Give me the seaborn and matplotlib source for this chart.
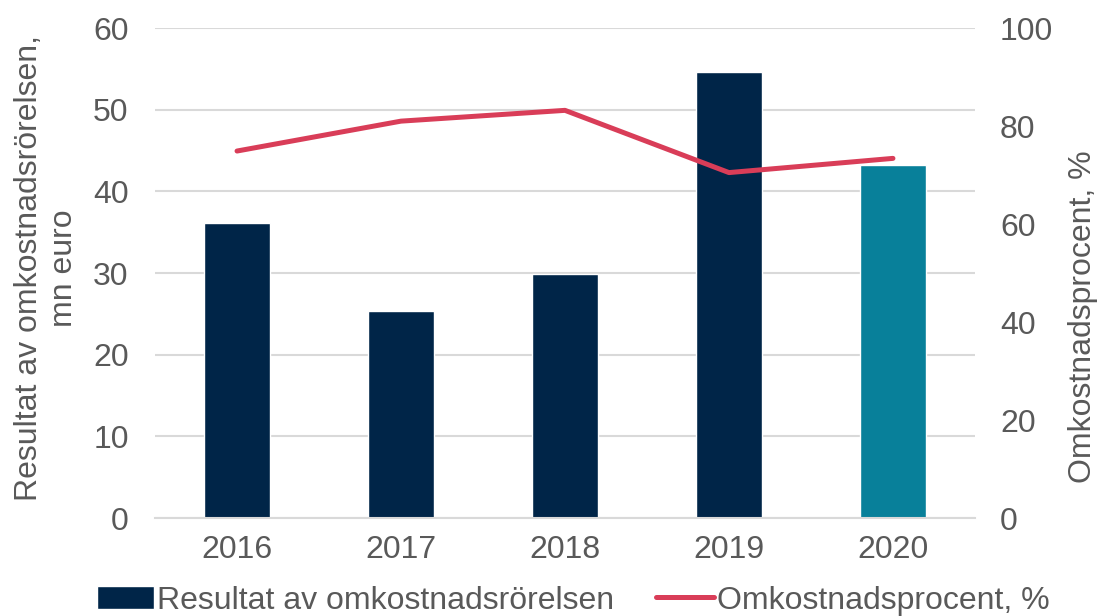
import pandas as pd
import seaborn as sns
import matplotlib.pyplot as plt
from matplotlib.patches import Patch
from matplotlib.lines import Line2D

YEARS = ["2016", "2017", "2018", "2019", "2020"]
RESULT = [36.1, 25.4, 29.9, 54.6, 43.2]
COST_PCT = [74.9, 81.0, 83.2, 70.5, 73.4]

BAR_LABEL = "Resultat av omkostnadsrörelsen"
LINE_LABEL = "Omkostnadsprocent, %"
LEFT_YLABEL = "Resultat av omkostnadsrörelsen,\nmn euro"
RIGHT_YLABEL = "Omkostnadsprocent, %"

NAVY = "#002548"
TEAL = "#08809a"
RED = "#d93d58"
GREY = "#595959"
FS = 23


def main():
    sns.set_style("white")
    plt.rcParams["font.family"] = ["Liberation Sans", "DejaVu Sans"]

    df = pd.DataFrame({"year": YEARS, "result": RESULT, "pct": COST_PCT})

    fig = plt.figure(figsize=(11.02, 6.16), dpi=100)
    ax = fig.add_axes([0.1407, 0.159, 0.744, 0.7955])

    sns.barplot(data=df, x="year", y="result", hue="year",
                palette=[NAVY, NAVY, NAVY, NAVY, TEAL], width=0.4,
                legend=False, ax=ax, saturation=1)
    ax.set_ylim(0, 60)
    ax.set_yticks(range(0, 61, 10))
    ax.set_xlim(-0.5, 4.5)
    ax.yaxis.grid(True, color="#d9d9d9", linewidth=1.5)
    ax.set_axisbelow(True)
    for s in ["top", "right", "left"]:
        ax.spines[s].set_visible(False)
    ax.spines["bottom"].set_color("#d9d9d9")
    ax.spines["bottom"].set_linewidth(1.5)
    ax.tick_params(axis="y", length=0, pad=19, labelsize=FS, labelcolor=GREY)
    ax.tick_params(axis="x", length=0, pad=12, labelsize=FS, labelcolor=GREY)
    ax.set_xlabel("")
    ax.set_ylabel(LEFT_YLABEL, fontsize=FS, color=GREY)
    ax.yaxis.set_label_coords(-0.093, 0.51)

    ax2 = ax.twinx()
    sns.lineplot(x=list(range(len(YEARS))), y=COST_PCT, ax=ax2, color=RED,
                 linewidth=3.6, solid_capstyle="round")
    ax2.set_ylim(0, 100)
    ax2.set_yticks(range(0, 101, 20))
    ax2.set_xlim(-0.5, 4.5)
    for s in ax2.spines.values():
        s.set_visible(False)
    ax2.tick_params(axis="y", length=0, pad=18, labelsize=FS, labelcolor=GREY)
    ax2.set_ylabel(RIGHT_YLABEL, fontsize=FS, color=GREY)
    ax2.yaxis.set_label_coords(1.113, 0.41)

    handles = [Patch(facecolor=NAVY, label=BAR_LABEL),
               Line2D([0], [0], color=RED, linewidth=3.6, label=LINE_LABEL)]
    fig.legend(handles=handles, loc="center", bbox_to_anchor=(0.52, 0.025),
               ncol=2, frameon=False, fontsize=FS, labelcolor=GREY,
               handlelength=1.8, handletextpad=0.1, columnspacing=1.3)

    fig.savefig("out.png", dpi=100)


if __name__ == "__main__":
    main()
